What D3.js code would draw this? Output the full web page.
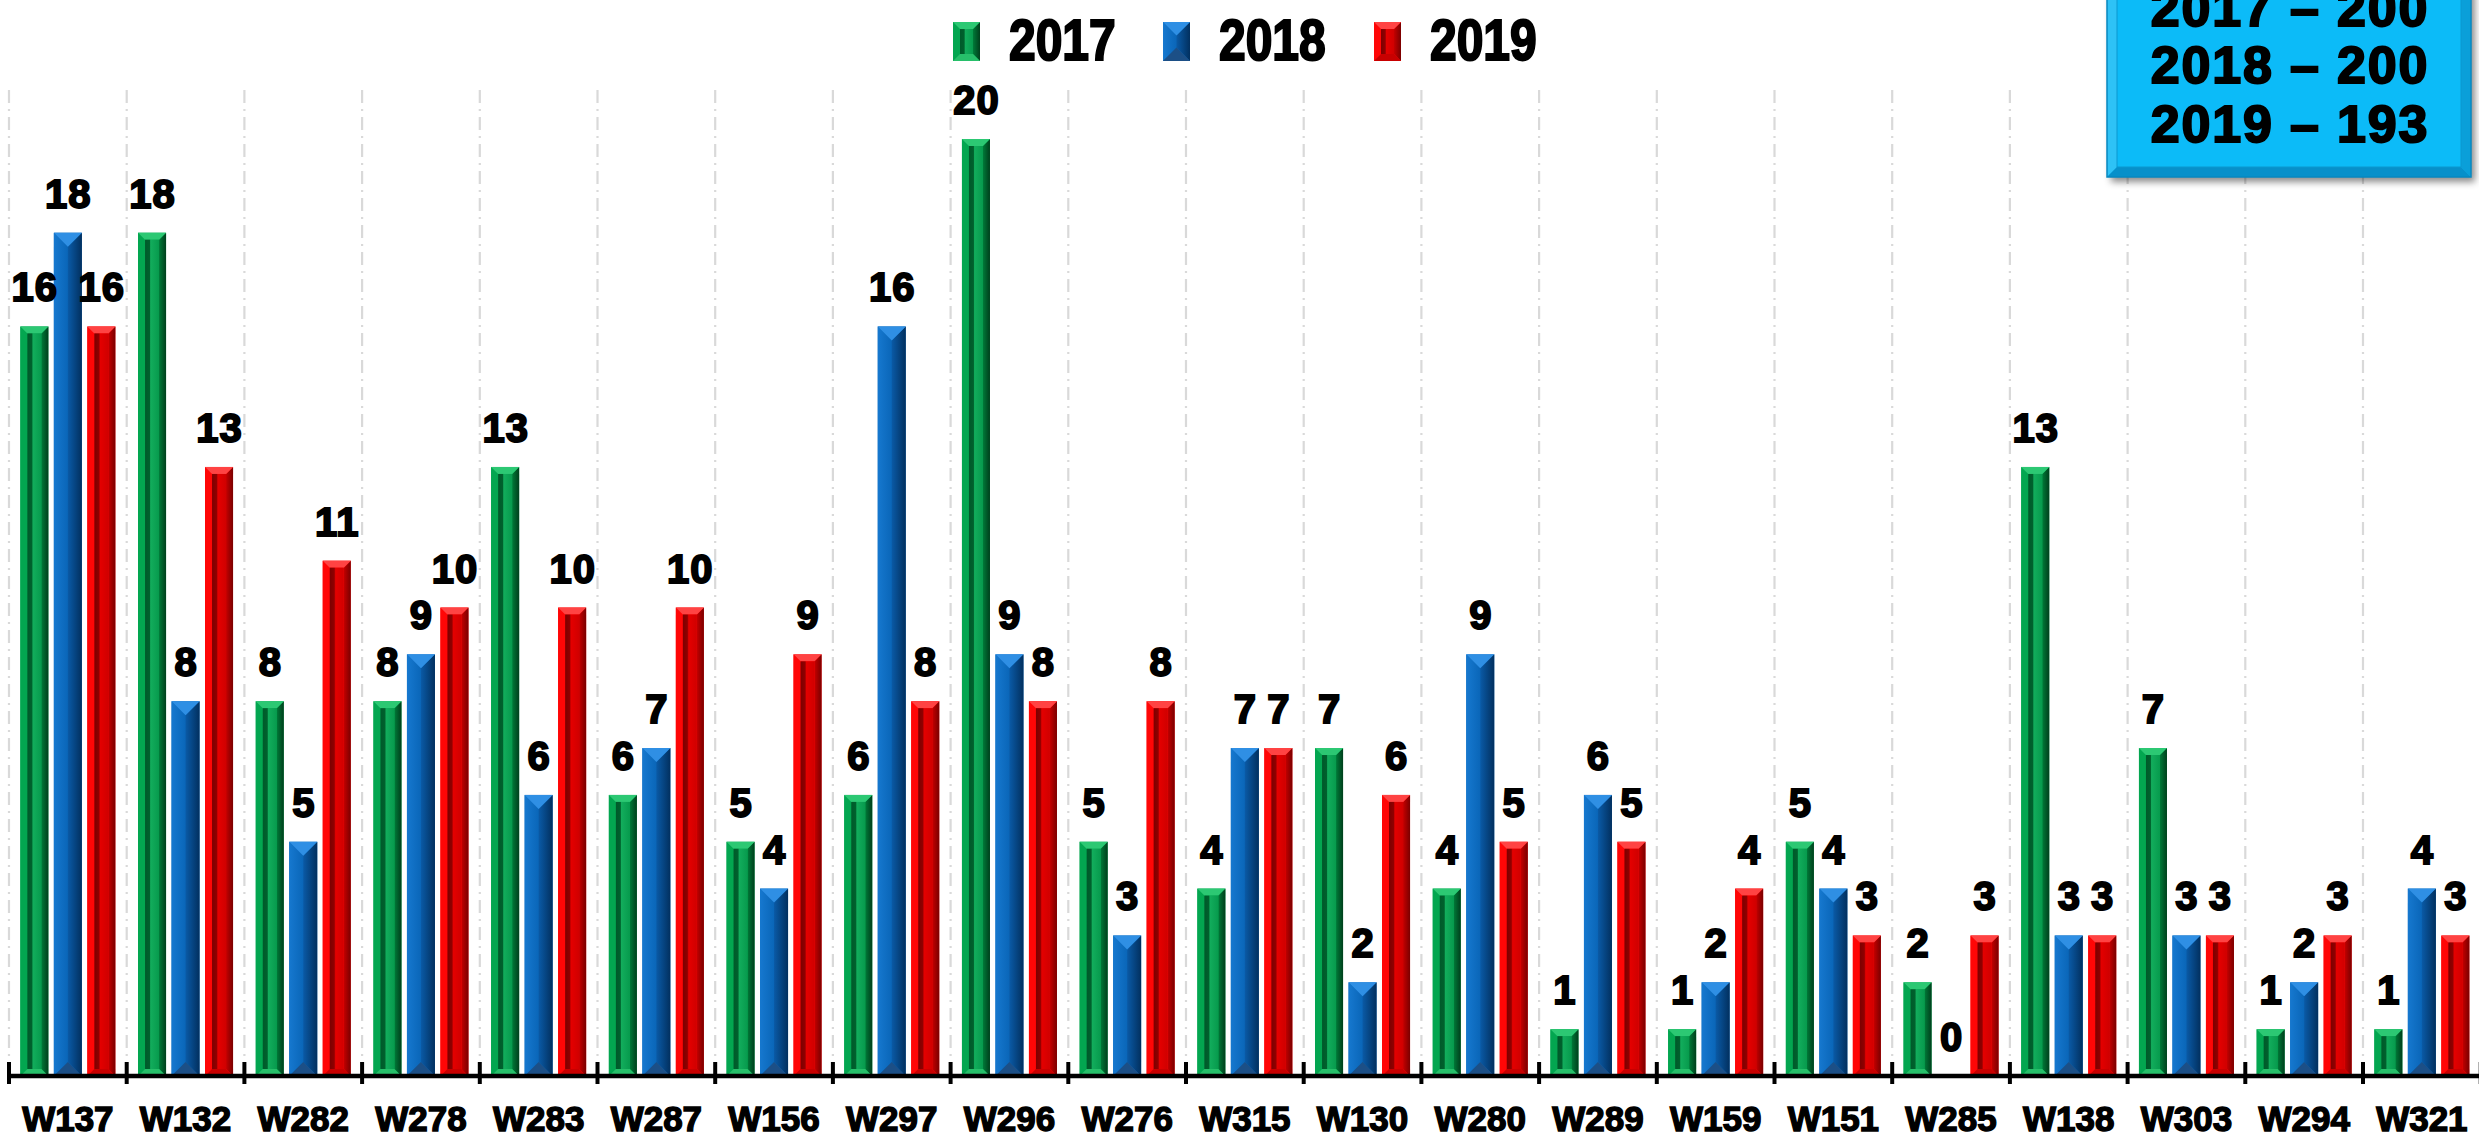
<!DOCTYPE html>
<html>
<head>
<meta charset="utf-8">
<script src="https://cdn.jsdelivr.net/npm/d3@7"></script>
<style>
  html, body { margin: 0; padding: 0; background: #ffffff; overflow: hidden; }
  svg { display: block; }
</style>
</head>
<body>
<svg id="chart" width="2479" height="1136"></svg>
<script>
// Wells, in the order they are plotted
const categories = ["W137","W132","W282","W278","W283","W287","W156","W297","W296","W276","W315",
                    "W130","W280","W289","W159","W151","W285","W138","W303","W294","W321"];
const seriesNames = ["2017", "2018", "2019"];
const values2017 = [16, 18, 8, 8, 13, 6, 5, 6, 20, 5, 4, 7, 4, 1, 1, 5, 2, 13, 7, 1, 1];
const values2018 = [18, 8, 5, 9, 6, 7, 4, 16, 9, 3, 7, 2, 9, 6, 2, 4, 0, 3, 3, 2, 4];
const values2019 = [16, 13, 11, 10, 10, 10, 9, 8, 8, 8, 7, 6, 5, 5, 4, 3, 3, 3, 3, 3, 3];
const totalLines = ["2017 – 200", "2018 – 200", "2019 – 193"];

const seriesValues = [values2017, values2018, values2019];

const W = 2479, H = 1136;
const svg = d3.select("#chart");
const defs = svg.append("defs");

// Facet palettes for the bevelled bars
const styles = {
  "2017": { pyramid: false, top: "#2cc873", left: "#03a650", right: ["#007a38", "#003f1c"], bottom: "#27bf6a",
            inner: [["0%", "#00592a"], ["32%", "#00612d"], ["40%", "#12ad5c"], ["100%", "#079a4d"]] },
  "2018": { pyramid: true, top: "#2f8fe4", left: ["#1678cf", "#0a66b8"], right: ["#0a5aa6", "#02305f"], bottom: "#1c4f86" },
  "2019": { pyramid: false, top: "#ff4343", left: "#ff0606", right: ["#c40000", "#7a0000"], bottom: "#c80000",
            inner: [["0%", "#7c0000"], ["32%", "#900000"], ["42%", "#e40000"], ["100%", "#d00000"]] }
};

function hGrad(id, stops) {
  const g = defs.append("linearGradient").attr("id", id)
    .attr("x1", "0%").attr("x2", "100%").attr("y1", "0%").attr("y2", "0%");
  stops.forEach(([o, c]) => g.append("stop").attr("offset", o).attr("stop-color", c));
  return `url(#${id})`;
}

const fills = {};
seriesNames.forEach(s => {
  const st = styles[s];
  const f = {};
  f.top = st.top;
  f.bottom = st.bottom;
  f.left = Array.isArray(st.left) ? hGrad(`l${s}`, [["0%", st.left[0]], ["100%", st.left[1]]]) : st.left;
  f.right = hGrad(`r${s}`, [["0%", st.right[0]], ["100%", st.right[1]]]);
  if (st.inner) f.inner = hGrad(`i${s}`, st.inner);
  fills[s] = f;
});

// Draws one bevelled bar as four facets plus an inner face
function bevelBar(g, s, x, y, w, h, bev) {
  if (h <= 0) return;
  const st = styles[s], f = fills[s];
  const bx = st.pyramid ? w / 2 : bev;
  const by = Math.min(st.pyramid ? w / 2 : bev, h / 2);
  const poly = (pts, fill) => g.append("polygon").attr("points", pts.map(p => p.join(",")).join(" ")).attr("fill", fill);
  g.append("rect").attr("x", x).attr("y", y).attr("width", w).attr("height", h).attr("fill", st.pyramid ? "#0a66b8" : st.left);
  poly([[x, y], [x + bx, y + by], [x + bx, y + h - by], [x, y + h]], f.left);
  poly([[x + w, y], [x + w - bx, y + by], [x + w - bx, y + h - by], [x + w, y + h]], f.right);
  poly([[x, y], [x + w, y], [x + w - bx, y + by], [x + bx, y + by]], f.top);
  poly([[x, y + h], [x + w, y + h], [x + w - bx, y + h - by], [x + bx, y + h - by]], f.bottom);
  if (!st.pyramid && h - 2 * by > 0) {
    g.append("rect").attr("x", x + bx).attr("y", y + by).attr("width", w - 2 * bx).attr("height", h - 2 * by)
      .attr("fill", f.inner);
  }
}

// Scales
const x0 = d3.scaleBand().domain(categories).range([9, 9 + 117.7 * categories.length]).padding(0);
const x1 = d3.scaleBand().domain(seriesNames).range([0, x0.bandwidth()]).paddingInner(0.164).paddingOuter(0.339);
const y = d3.scaleLinear().domain([0, 20]).range([1076, 139]);

const fontFamily = "'Liberation Sans', Arial, Helvetica, sans-serif";

// Vertical dash-dot gridlines at category boundaries
const boundaries = categories.map(c => x0(c)).concat([x0.range()[1]]);
svg.append("g").selectAll("line").data(boundaries).join("line")
  .attr("x1", d => d).attr("x2", d => d)
  .attr("y1", 90).attr("y2", y(0))
  .attr("stroke", "#d9d9d9").attr("stroke-width", 2.2)
  .attr("stroke-dasharray", "13,6,2,6");

// Bars
const barsG = svg.append("g");
categories.forEach((c, i) => {
  seriesNames.forEach((s, k) => {
    const v = seriesValues[k][i];
    bevelBar(barsG, s, x0(c) + x1(s), y(v), x1.bandwidth(), y(0) - y(v), 7);
  });
});

// Value labels above bars
const labelsG = svg.append("g")
  .attr("font-family", fontFamily).attr("font-weight", "bold").attr("font-size", 40)
  .attr("text-anchor", "middle").attr("fill", "#000").attr("stroke", "#000").attr("stroke-width", 1.9)
  .attr("letter-spacing", 1);
categories.forEach((c, i) => {
  seriesNames.forEach((s, k) => {
    const v = seriesValues[k][i];
    labelsG.append("text")
      .attr("x", x0(c) + x1(s) + x1.bandwidth() / 2 + 0.5)
      .attr("y", y(v) - 25)
      .text(v);
  });
});

// Category axis
const axisG = svg.append("g").attr("transform", `translate(0,${y(0)})`);
axisG.append("line").attr("x1", 9).attr("x2", W).attr("y1", 0).attr("y2", 0)
  .attr("stroke", "#000").attr("stroke-width", 4.5);
axisG.selectAll("line.tick").data(boundaries).join("line").attr("class", "tick")
  .attr("x1", d => d).attr("x2", d => d).attr("y1", -14).attr("y2", 8)
  .attr("stroke", "#000").attr("stroke-width", 4);
axisG.selectAll("text").data(categories).join("text")
  .attr("x", d => x0(d) + x0.bandwidth() / 2)
  .attr("y", 55)
  .attr("text-anchor", "middle")
  .attr("font-family", fontFamily).attr("font-weight", "bold").attr("font-size", 35)
  .attr("fill", "#000").attr("stroke", "#000").attr("stroke-width", 1.4)
  .text(d => d);

// Legend
const legendX = [953, 1163, 1374];
const legendG = svg.append("g");
seriesNames.forEach((s, k) => {
  bevelBar(legendG, s, legendX[k], 22, 27, 39, 7);
  legendG.append("text")
    .attr("transform", `translate(${legendX[k] + 56},60) scale(1,1.2)`)
    .attr("font-family", fontFamily).attr("font-weight", "bold").attr("font-size", 48)
    .attr("fill", "#000").attr("stroke", "#000").attr("stroke-width", 1.8)
    .text(s);
});

// Totals box in the top-right corner
const shadow = defs.append("filter").attr("id", "boxShadow")
  .attr("x", "-10%").attr("y", "-10%").attr("width", "130%").attr("height", "130%");
shadow.append("feDropShadow").attr("dx", 4).attr("dy", 5).attr("stdDeviation", 3.5)
  .attr("flood-color", "#000").attr("flood-opacity", 0.45);

const bx = 2107, bw = 364, byTop = -60, bh = 237, bb = 10;
const boxG = svg.append("g");
boxG.append("rect").attr("x", bx).attr("y", byTop).attr("width", bw).attr("height", bh)
  .attr("fill", "#12b8f2").attr("filter", "url(#boxShadow)");
const bpoly = (pts, fill) => boxG.append("polygon").attr("points", pts.map(p => p.join(",")).join(" ")).attr("fill", fill);
const bx2 = bx + bw, by2 = byTop + bh;
bpoly([[bx, byTop], [bx2, byTop], [bx2 - bb, byTop + bb], [bx + bb, byTop + bb]], "#5fd3fb");
bpoly([[bx, byTop], [bx + bb, byTop + bb], [bx + bb, by2 - bb], [bx, by2]], "#2ec2f6");
bpoly([[bx2, byTop], [bx2 - bb, byTop + bb], [bx2 - bb, by2 - bb], [bx2, by2]], "#0a9fd9");
bpoly([[bx, by2], [bx2, by2], [bx2 - bb, by2 - bb], [bx + bb, by2 - bb]], "#0790ca");
boxG.append("rect").attr("x", bx + bb).attr("y", byTop + bb).attr("width", bw - 2 * bb).attr("height", bh - 2 * bb)
  .attr("fill", "#0cbbf8").attr("stroke", "#0a97cf").attr("stroke-width", 1);
boxG.append("rect").attr("x", bx).attr("y", byTop).attr("width", bw).attr("height", bh)
  .attr("fill", "none").attr("stroke", "#0788c0").attr("stroke-width", 1.5);

const boxBaselines = [26, 83, 142];
boxG.selectAll("text").data(totalLines).join("text")
  .attr("x", bx + bw / 2 + 1)
  .attr("y", (d, i) => boxBaselines[i])
  .attr("text-anchor", "middle")
  .attr("font-family", fontFamily).attr("font-weight", "bold").attr("font-size", 52)
  .attr("letter-spacing", 1.8)
  .attr("fill", "#000").attr("stroke", "#000").attr("stroke-width", 2)
  .text(d => d);
</script>
</body>
</html>
